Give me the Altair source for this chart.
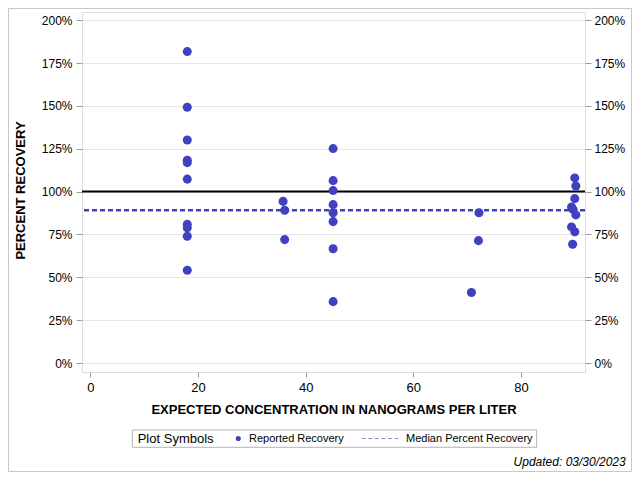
import altair as alt
import pandas as pd

# ---- data ----
CONC = [18.0, 18.0, 18.0, 18.0, 18.0, 18.0, 18.0, 18.0, 18.0, 18.0,
        35.8, 36.1, 36.1,
        45.1, 45.1, 45.1, 45.1, 45.1, 45.1, 45.1, 45.1,
        70.8, 72.2, 72.1,
        90.0, 90.2, 90.0, 89.4, 89.7, 90.2, 89.4, 90.0, 89.6]
RECOVERY = [181.7, 149.2, 130.1, 118.3, 116.9, 107.3, 80.9, 78.9, 74.0, 54.1,
            94.3, 89.1, 72.0,
            125.1, 106.4, 100.6, 92.4, 87.7, 82.5, 66.7, 35.8,
            41.1, 87.7, 71.4,
            108.0, 103.3, 95.9, 91.0, 89.5, 86.4, 79.4, 76.6, 69.3]
REFERENCE = [100]
Y_TICKS = [0, 25, 50, 75, 100, 125, 150, 175, 200]
X_TICKS = [0, 20, 40, 60, 80]

X_TITLE = "EXPECTED CONCENTRATION IN NANOGRAMS PER LITER"
Y_TITLE = "PERCENT RECOVERY"
LEGEND_TITLE = "Plot Symbols"
LEGEND_POINT = "Reported Recovery"
LEGEND_LINE = "Median Percent Recovery"
UPDATED = "Updated: 03/30/2023"

df = pd.DataFrame({"conc": CONC, "rec": RECOVERY})
ref = pd.DataFrame({"ref": REFERENCE})
one = pd.DataFrame({"k": [0]})

BLUE = "#4040C0"
FONT = "Liberation Sans, Arial, sans-serif"
NARROW = "Liberation Sans Narrow, Liberation Sans, Arial, sans-serif"
W, H = 503, 360

xscale = alt.Scale(domain=[-1.56, 91.9], nice=False, zero=False)
yscale = alt.Scale(domain=[-5.25, 204.8], nice=False, zero=False)

x_enc = alt.X("conc:Q", scale=xscale, title=X_TITLE,
              axis=alt.Axis(values=X_TICKS, grid=False, domain=False,
                            tickColor="#9a9a9a", tickSize=5, labelPadding=4,
                            labelFont=NARROW, labelFontSize=13, labelColor="#000",
                            titleFont=FONT, titleFontSize=13, titleFontWeight="bold",
                            titleColor="#000", titleY=41, titleBaseline="alphabetic"))

yl_axis = alt.Axis(values=Y_TICKS, orient="left", grid=True, gridColor="#e6e6e6",
                   domain=False, tickColor="#9a9a9a", tickSize=6, labelPadding=4,
                   labelExpr="datum.value + '%'", labelFont=FONT, labelFontSize=12,
                   labelColor="#000", titleFont=FONT, titleFontSize=13,
                   titleFontWeight="bold", titleColor="#000", titleX=-58, titleY=178,
                   titleBaseline="alphabetic", titleAngle=270)
yr_axis = alt.Axis(values=Y_TICKS, orient="right", grid=False, domain=False,
                   tickColor="#9a9a9a", tickSize=6, labelPadding=3,
                   labelExpr="datum.value + '%'", labelFont=FONT, labelFontSize=12,
                   labelColor="#000")

ref_line = alt.Chart(ref).mark_rule(color="black", strokeWidth=2).encode(
    y=alt.Y("ref:Q", scale=yscale, title=Y_TITLE, axis=yl_axis)
)

median_line = alt.Chart(df).mark_rule(color=BLUE, strokeWidth=2.5, strokeDash=[5, 3]).encode(
    y=alt.Y("median(rec):Q", scale=yscale, title=None, axis=yr_axis)
)

points = alt.Chart(df).mark_circle(color=BLUE, size=82, opacity=1).encode(
    x=x_enc,
    y=alt.Y("rec:Q", scale=yscale, title=None, axis=None),
)

# ---- legend box and footer (decoration) ----
leg_box = alt.Chart(one).mark_rect(fillOpacity=0, stroke="#b4b4b4", strokeWidth=1).encode(
    x=alt.value(50.3), x2=alt.value(454.7), y=alt.value(418), y2=alt.value(435.3))
leg_title = alt.Chart(one).mark_text(align="left", baseline="middle", font=FONT,
                                     fontSize=13, color="#000").encode(
    x=alt.value(55.7), y=alt.value(426.8), text=alt.value(LEGEND_TITLE))
leg_dot = alt.Chart(one).mark_circle(color=BLUE, size=26, opacity=1).encode(
    x=alt.value(156.3), y=alt.value(426.5))
leg_dot_text = alt.Chart(one).mark_text(align="left", baseline="middle", font=FONT,
                                        fontSize=11, color="#000").encode(
    x=alt.value(167), y=alt.value(426.8), text=alt.value(LEGEND_POINT))
leg_dash = alt.Chart(one).mark_rule(color="#8c8ce0", strokeWidth=1, strokeDash=[4, 2.6]).encode(
    x=alt.value(279.7), x2=alt.value(316.3), y=alt.value(426.5))
leg_dash_text = alt.Chart(one).mark_text(align="left", baseline="middle", font=FONT,
                                         fontSize=11, color="#000").encode(
    x=alt.value(324), y=alt.value(426.8), text=alt.value(LEGEND_LINE))
updated = alt.Chart(one).mark_text(align="right", baseline="alphabetic", font=FONT,
                                   fontSize=12, fontStyle="italic", color="#000").encode(
    x=alt.value(543.7), y=alt.value(454), text=alt.value(UPDATED))
border = alt.Chart(one).mark_rect(fillOpacity=0, stroke="#c8c8c8", strokeWidth=1).encode(
    x=alt.value(-73.5), x2=alt.value(549.5), y=alt.value(-3.5), y2=alt.value(459.5))

chart = alt.layer(
    ref_line, median_line, points,
    leg_box, leg_title, leg_dot, leg_dot_text, leg_dash, leg_dash_text, updated, border,
).resolve_axis(y="independent").properties(
    width=W, height=H,
    autosize=alt.AutoSizeParams(type="none"),
    padding={"left": 74, "top": 4, "right": 47, "bottom": 100},
).configure_view(stroke="#9a9a9a", strokeWidth=1).configure(background="white")

chart.save("out.html", embed_options={"renderer": "svg", "actions": False})
